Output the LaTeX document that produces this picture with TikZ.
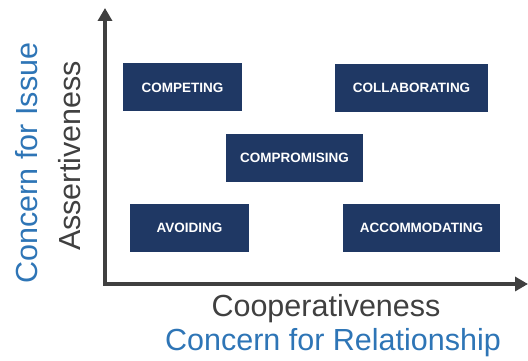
\documentclass[tikz,border=0pt]{standalone}
\usepackage{fontspec}
\setmainfont{Liberation Sans}
\usetikzlibrary{arrows.meta,positioning,calc}
\definecolor{navy}{HTML}{1F3864}
\definecolor{axisgray}{HTML}{404040}
\definecolor{issueblue}{HTML}{2E75B6}
\tikzstyle{mode}=[fill=navy,text=white,font=\fontsize{13.5}{15}\selectfont\bfseries,minimum height=48pt,inner sep=0pt]
\tikzstyle{axis}=[line width=3.5pt,draw=axisgray,-{Triangle[length=13pt,width=14pt]}]
\tikzstyle{axislabel}=[font=\fontsize{30.5}{34}\selectfont,inner sep=0pt]

\begin{document}
\begin{tikzpicture}[x=1pt,y=1pt]
    \useasboundingbox (0,0) rectangle (528,361);
    % axes
    \coordinate (origin) at (105,77);
    \coordinate (ytop) at (105,353);
    \coordinate (xend) at (528,77);
    \draw [axis] ($(origin)+(0,-1.75)$) -- (ytop);
    \draw [axis] ($(origin)+(-1.75,0)$) -- (xend);
    % modes
    \node [mode,minimum width=119pt] (competing) at (182.5,273.5) {COMPETING};
    \node [mode,minimum width=153pt] (collaborating) at (411.5,273) {COLLABORATING};
    \node [mode,minimum width=137pt] (compromising) at (294.5,203) {COMPROMISING};
    \node [mode,minimum width=119pt] (avoiding) at (189.5,133) {AVOIDING};
    \node [mode,minimum width=157pt] (accommodating) at (421.5,133) {ACCOMMODATING};
    % labels
    \node [axislabel,text=axisgray] (coop) at (326,52) {Cooperativeness};
    \node [axislabel,text=issueblue] (relation) at (333,18) {Concern for Relationship};
    \node [axislabel,text=axisgray,rotate=90] (assert) at (70,205) {Assertiveness};
    \node [axislabel,text=issueblue,rotate=90] (issue) at (27,198) {Concern for Issue};
\end{tikzpicture}
\end{document}
